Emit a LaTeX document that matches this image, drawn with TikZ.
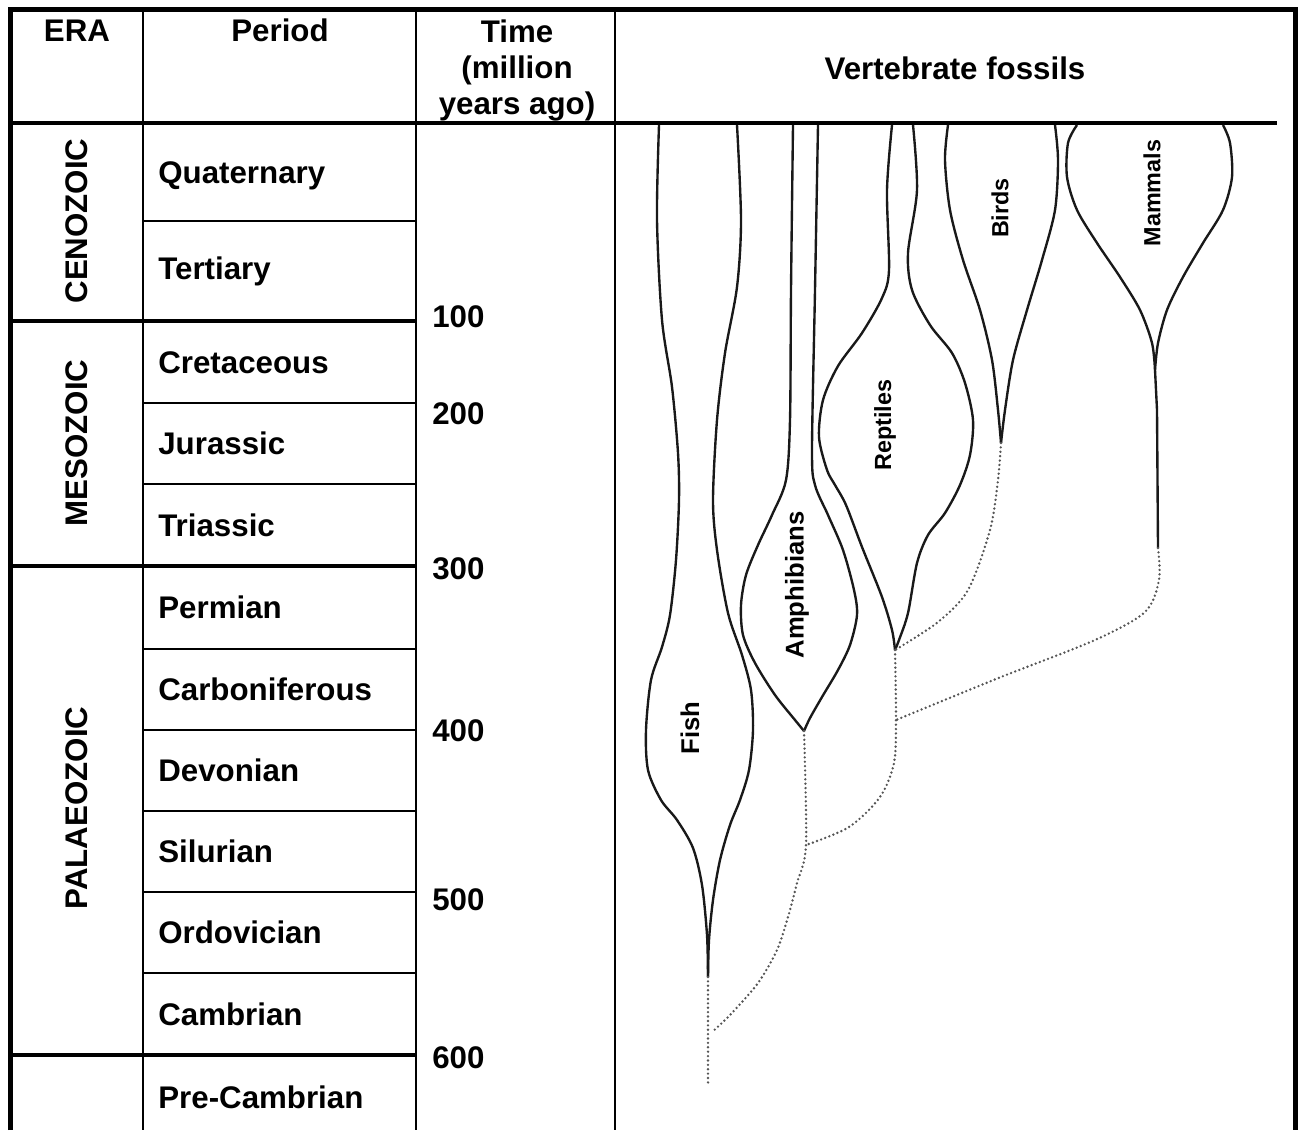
\documentclass[tikz,border=0pt]{standalone}
\usepackage{fontspec}
\setmainfont{Liberation Sans}
\usetikzlibrary{positioning}
\definecolor{treeline}{RGB}{25,25,25}
\definecolor{treedot}{RGB}{85,85,85}

\begin{document}
\begin{tikzpicture}[
  x=0.02cm, y=-0.02cm,
  lbl/.style={font=\bfseries\fontsize{17.8pt}{20.7pt}\selectfont, inner sep=0pt},
  era/.style={lbl, rotate=90},
  taxon/.style={font=\bfseries\fontsize{13.3pt}{15pt}\selectfont, inner sep=0pt, rotate=90},
  bigtaxon/.style={taxon, font=\bfseries\fontsize{14.6pt}{16pt}\selectfont},
  thickrule/.style={line width=2.8pt},
  thinrule/.style={line width=1.1pt},
  lineage/.style={treeline, line width=1.35pt},
  ancestry/.style={treedot, line width=1.5pt, line cap=round, dash pattern=on 0pt off 2.5pt}
]
\useasboundingbox (0,0) rectangle (1298,1130);

% table frame
\draw[thickrule] (10.5,1130) -- (10.5,9.5) -- (1295.5,9.5) -- (1295.5,1130);
\draw[thickrule] (10.5,123) -- (1277,123);
\foreach \x in {143,416,615}
  \draw[thinrule] (\x,9.5) -- (\x,1130);
\foreach \y in {321,566,1055}
  \draw[thickrule] (10.5,\y) -- (416,\y);
\foreach \y in {221,403,484,649,730,811,892,973}
  \draw[thinrule] (143,\y) -- (416,\y);

% headers
\node[lbl, anchor=base] (hera) at (77,41) {ERA};
\node[lbl, anchor=base] (hperiod) at (280,41) {Period};
\node[lbl, align=center, anchor=north] (htime) at (517,19) {Time\\(million\\years ago)};
\node[lbl, anchor=base] (hfossils) at (955,79) {Vertebrate fossils};

% eras
\node[era] (cenozoic) at (77,221) {CENOZOIC};
\node[era] (mesozoic) at (77,443) {MESOZOIC};
\node[era] (palaeozoic) at (77,808) {PALAEOZOIC};

% periods
\foreach \name/\y in {Quaternary/183, Tertiary/279, Cretaceous/373, Jurassic/454,
    Triassic/536, Permian/618, Carboniferous/700, Devonian/781, Silurian/862,
    Ordovician/943, Cambrian/1025, Pre-Cambrian/1108}
  \node[lbl, anchor=base west] (p-\name) at (158,\y) {\name};

% time scale
\foreach \t/\y in {100/327, 200/424, 300/579, 400/741, 500/910, 600/1068}
  \node[lbl, anchor=base west] (t\t) at (432,\y) {\t};

% branch points
\coordinate (fishtip) at (708,977);
\coordinate (fishroot) at (708,1083);
\coordinate (fishjunc) at (712,1032);
\coordinate (amphtip) at (804,731);
\coordinate (amphjunc) at (806,845);
\coordinate (repttip) at (895,650);
\coordinate (reptjunc) at (896,720);
\coordinate (birdtip) at (1001,443);
\coordinate (mammfork) at (1155,370);
\coordinate (mammtip) at (1158,548);

% fish
\draw[lineage] plot[smooth] coordinates {(659,125) (657,220) (662,320) (672,387)
  (678,453) (679,500) (676,560) (670,615) (662,647) (651,680) (646,730) (648,770)
  (661,800) (677,820) (693,848) (702,885) (707,935) (fishtip)};
\draw[lineage] plot[smooth] coordinates {(737,125) (741,220) (737,287) (725,353)
  (717,420) (713,500) (717,550) (728,613) (742,655) (751,690) (753,730) (749,770)
  (740,800) (730,825) (720,860) (713,900) (709,940) (fishtip)};

% amphibians
\draw[lineage] plot[smooth] coordinates {(793,125) (791,290) (790,420) (786,480)
  (772,515) (758,545) (746,575) (741,605) (743,635) (755,663) (775,695) (795,720)
  (amphtip)};
\draw[lineage] plot[smooth] coordinates {(818,125) (815,290) (812,450) (815,485)
  (828,515) (843,550) (854,590) (857,615) (850,645) (838,670) (822,697) (810,718)
  (amphtip)};

% reptiles
\draw[lineage] plot[smooth] coordinates {(892,125) (887,190) (889,270) (882,298)
  (862,333) (838,366) (823,400) (819,437) (827,470) (835,485) (846,505) (862,547)
  (882,597) (892,630) (repttip)};
\draw[lineage] plot[smooth] coordinates {(913,125) (917,190) (908,253) (912,290)
  (930,325) (952,353) (965,383) (973,420) (970,455) (960,485) (945,513) (928,535)
  (917,563) (908,613) (899,640) (repttip)};

% birds
\draw[lineage] plot[smooth] coordinates {(948,125) (945,160) (950,210) (963,260)
  (980,310) (992,360) (998,410) (birdtip)};
\draw[lineage] plot[smooth] coordinates {(1055,125) (1058,160) (1055,210)
  (1042,260) (1027,310) (1013,360) (1005,410) (birdtip)};

% mammals
\draw[lineage] plot[smooth] coordinates {(1077,125) (1068,143) (1067,177)
  (1077,210) (1097,243) (1120,277) (1140,310) (1152,343) (mammfork)};
\draw[lineage] plot[smooth] coordinates {(1223,125) (1230,143) (1232,177)
  (1223,210) (1203,243) (1183,277) (1167,310) (1158,343) (mammfork)};
\draw[lineage] (mammfork) -- (1157,410) -- (mammtip);

% ancestry
\draw[ancestry] (fishtip) -- (fishroot);
\draw[ancestry] plot[smooth] coordinates {(amphtip) (amphjunc) (797,883) (788,917)
  (777,950) (758,983) (730,1015) (fishjunc)};
\draw[ancestry] plot[smooth] coordinates {(repttip) (reptjunc) (894,763) (880,797)
  (849,827) (amphjunc)};
\draw[ancestry] plot[smooth] coordinates {(birdtip) (998,480) (990,530) (968,590)
  (938,622) (repttip)};
\draw[ancestry] plot[smooth] coordinates {(mammtip) (1159,580) (1145,612)
  (1095,640) (1001,677) (930,706) (reptjunc)};

% taxa
\node[bigtaxon] (fish) at (690,728) {Fish};
\node[bigtaxon] (amphibians) at (797,585) {Amphibians};
\node[taxon] (reptiles) at (885,425) {Reptiles};
\node[taxon] (birds) at (1000,208) {Birds};
\node[taxon] (mammals) at (1152,193) {Mammals};
\end{tikzpicture}
\end{document}
